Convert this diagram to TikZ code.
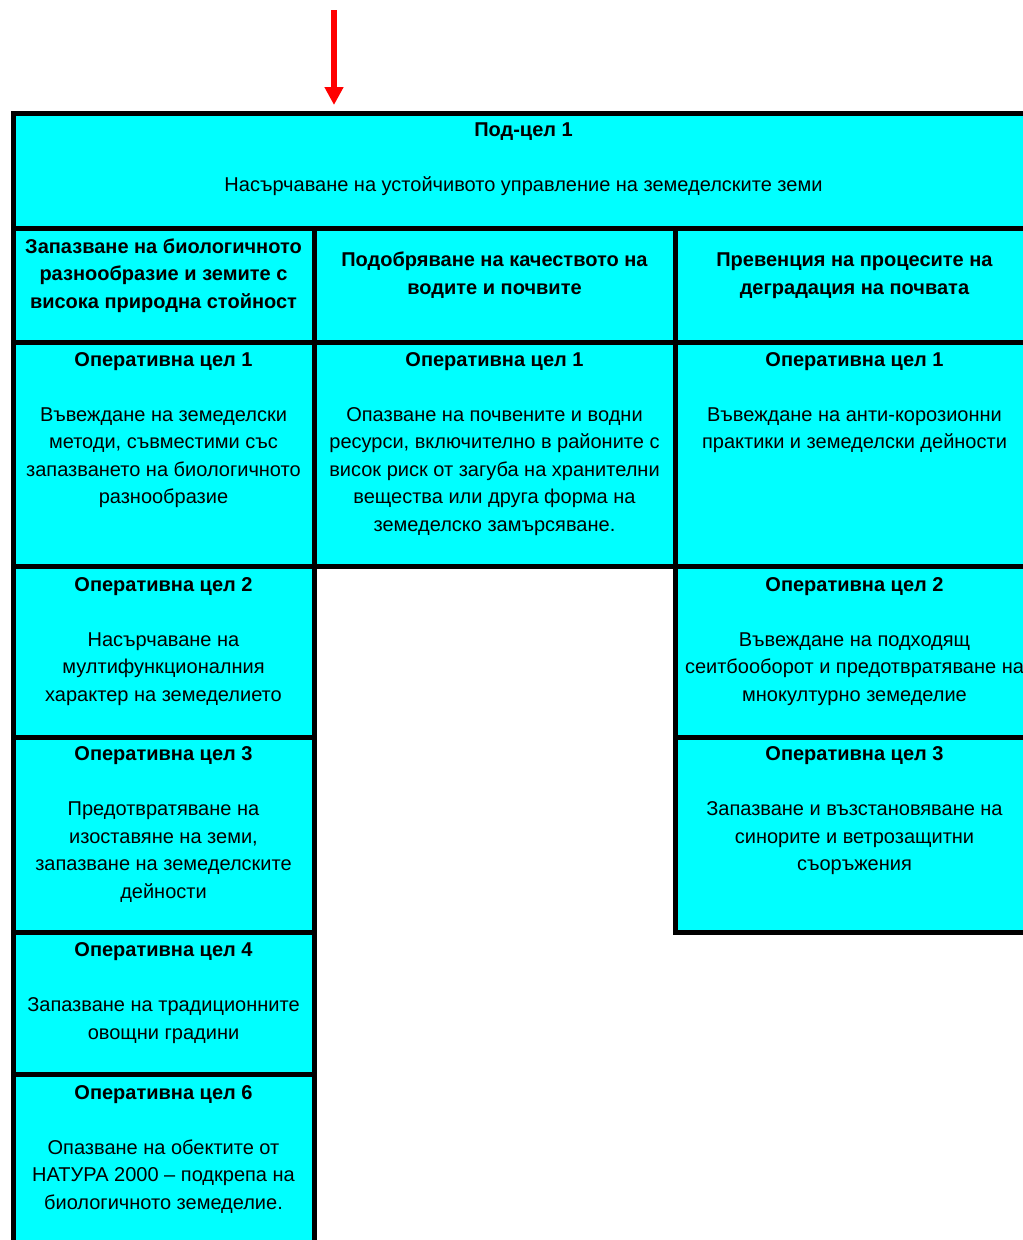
\documentclass[tikz,border=0pt]{standalone}
\usepackage{fontspec}
\setmainfont{Liberation Sans}
\usetikzlibrary{arrows.meta}
\definecolor{cellcyan}{RGB}{0,255,255}
\definecolor{arrowred}{RGB}{255,0,0}
\newcommand\firststrut{\rule{0pt}{20pt}}
\begin{document}
\begin{tikzpicture}[x=1pt,y=-1pt,
  cell/.style={draw=black, fill=cellcyan, line width=5pt, inner sep=0pt, outer sep=0pt},
  txt/.style={font=\fontsize{20pt}{27.5pt}\selectfont, align=center, inner sep=0pt, anchor=north},
  flow/.style={draw=arrowred, line width=6pt, -{Triangle[width=18pt,length=18pt]}}]
\useasboundingbox (0,0) rectangle (1023,1240);
\clip (0,0) rectangle (1023,1240);
% cells
\node[cell, minimum width=1021pt, minimum height=114.5pt] (top) at (523.5,170.75) {};
\node[cell, minimum width=301pt, minimum height=114pt] (h1) at (163.5,285) {};
\node[cell, minimum width=361pt, minimum height=114pt] (h2) at (494.5,285) {};
\node[cell, minimum width=359pt, minimum height=114pt] (h3) at (854.5,285) {};
\node[cell, minimum width=301pt, minimum height=224.5pt] (a1) at (163.5,454.25) {};
\node[cell, minimum width=361pt, minimum height=224.5pt] (b1) at (494.5,454.25) {};
\node[cell, minimum width=359pt, minimum height=224.5pt] (c1) at (854.5,454.25) {};
\node[cell, minimum width=301pt, minimum height=170.5pt] (a2) at (163.5,651.75) {};
\node[cell, minimum width=359pt, minimum height=170.5pt] (c2) at (854.5,651.75) {};
\node[cell, minimum width=301pt, minimum height=195pt] (a3) at (163.5,834.5) {};
\node[cell, minimum width=359pt, minimum height=195pt] (c3) at (854.5,834.5) {};
\node[cell, minimum width=301pt, minimum height=142pt] (a4) at (163.5,1003) {};
\node[cell, minimum width=301pt, minimum height=196pt] (a6) at (163.5,1172) {};
% texts (first baseline = cell top + offset; node top = baseline - 20pt)
\node[txt] (ttop) at ([yshift=-3pt]top.north) {\firststrut\textbf{Под-цел 1}\\[27.5pt]Насърчаване на устойчивото управление на земеделските земи};
\node[txt] (th1) at ([yshift=-5pt]h1.north) {\firststrut\textbf{Запазване на биологичното}\\\textbf{разнообразие и земите с}\\\textbf{висока природна стойност}};
\node[txt] (th2) at ([yshift=-18.5pt]h2.north) {\firststrut\textbf{Подобряване на качеството на}\\\textbf{водите и почвите}};
\node[txt] (th3) at ([yshift=-18.5pt]h3.north) {\firststrut\textbf{Превенция на процесите на}\\\textbf{деградация на почвата}};
\node[txt] (ta1) at ([yshift=-4pt]a1.north) {\firststrut\textbf{Оперативна цел 1}\\[27.5pt]Въвеждане на земеделски\\методи, съвместими със\\запазването на биологичното\\разнообразие};
\node[txt] (tb1) at ([yshift=-4pt]b1.north) {\firststrut\textbf{Оперативна цел 1}\\[27.5pt]Опазване на почвените и водни\\ресурси, включително в районите с\\висок риск от загуба на хранителни\\вещества или друга форма на\\земеделско замърсяване.};
\node[txt] (tc1) at ([yshift=-4pt]c1.north) {\firststrut\textbf{Оперативна цел 1}\\[27.5pt]Въвеждане на анти-корозионни\\практики и земеделски дейности};
\node[txt] (ta2) at ([yshift=-4.5pt]a2.north) {\firststrut\textbf{Оперативна цел 2}\\[27.5pt]Насърчаване на\\мултифункционалния\\характер на земеделието};
\node[txt] (tc2) at ([yshift=-4.5pt]c2.north) {\firststrut\textbf{Оперативна цел 2}\\[27.5pt]Въвеждане на подходящ\\сеитбооборот и предотвратяване на\\мнокултурно земеделие};
\node[txt] (ta3) at ([yshift=-3.5pt]a3.north) {\firststrut\textbf{Оперативна цел 3}\\[27.5pt]Предотвратяване на\\изоставяне на земи,\\запазване на земеделските\\дейности};
\node[txt] (tc3) at ([yshift=-3.5pt]c3.north) {\firststrut\textbf{Оперативна цел 3}\\[27.5pt]Запазване и възстановяване на\\синорите и ветрозащитни\\съоръжения};
\node[txt] (ta4) at ([yshift=-4.5pt]a4.north) {\firststrut\textbf{Оперативна цел 4}\\[27.5pt]Запазване на традиционните\\овощни градини};
\node[txt] (ta6) at ([yshift=-5pt]a6.north) {\firststrut\textbf{Оперативна цел 6}\\[27.5pt]Опазване на обектите от\\НАТУРА 2000 – подкрепа на\\биологичното земеделие.};
% arrow
\coordinate (arrowtop) at (334,10);
\draw[flow, shorten >=8.5pt] (arrowtop) -- (arrowtop |- top.north);
\end{tikzpicture}
\end{document}
